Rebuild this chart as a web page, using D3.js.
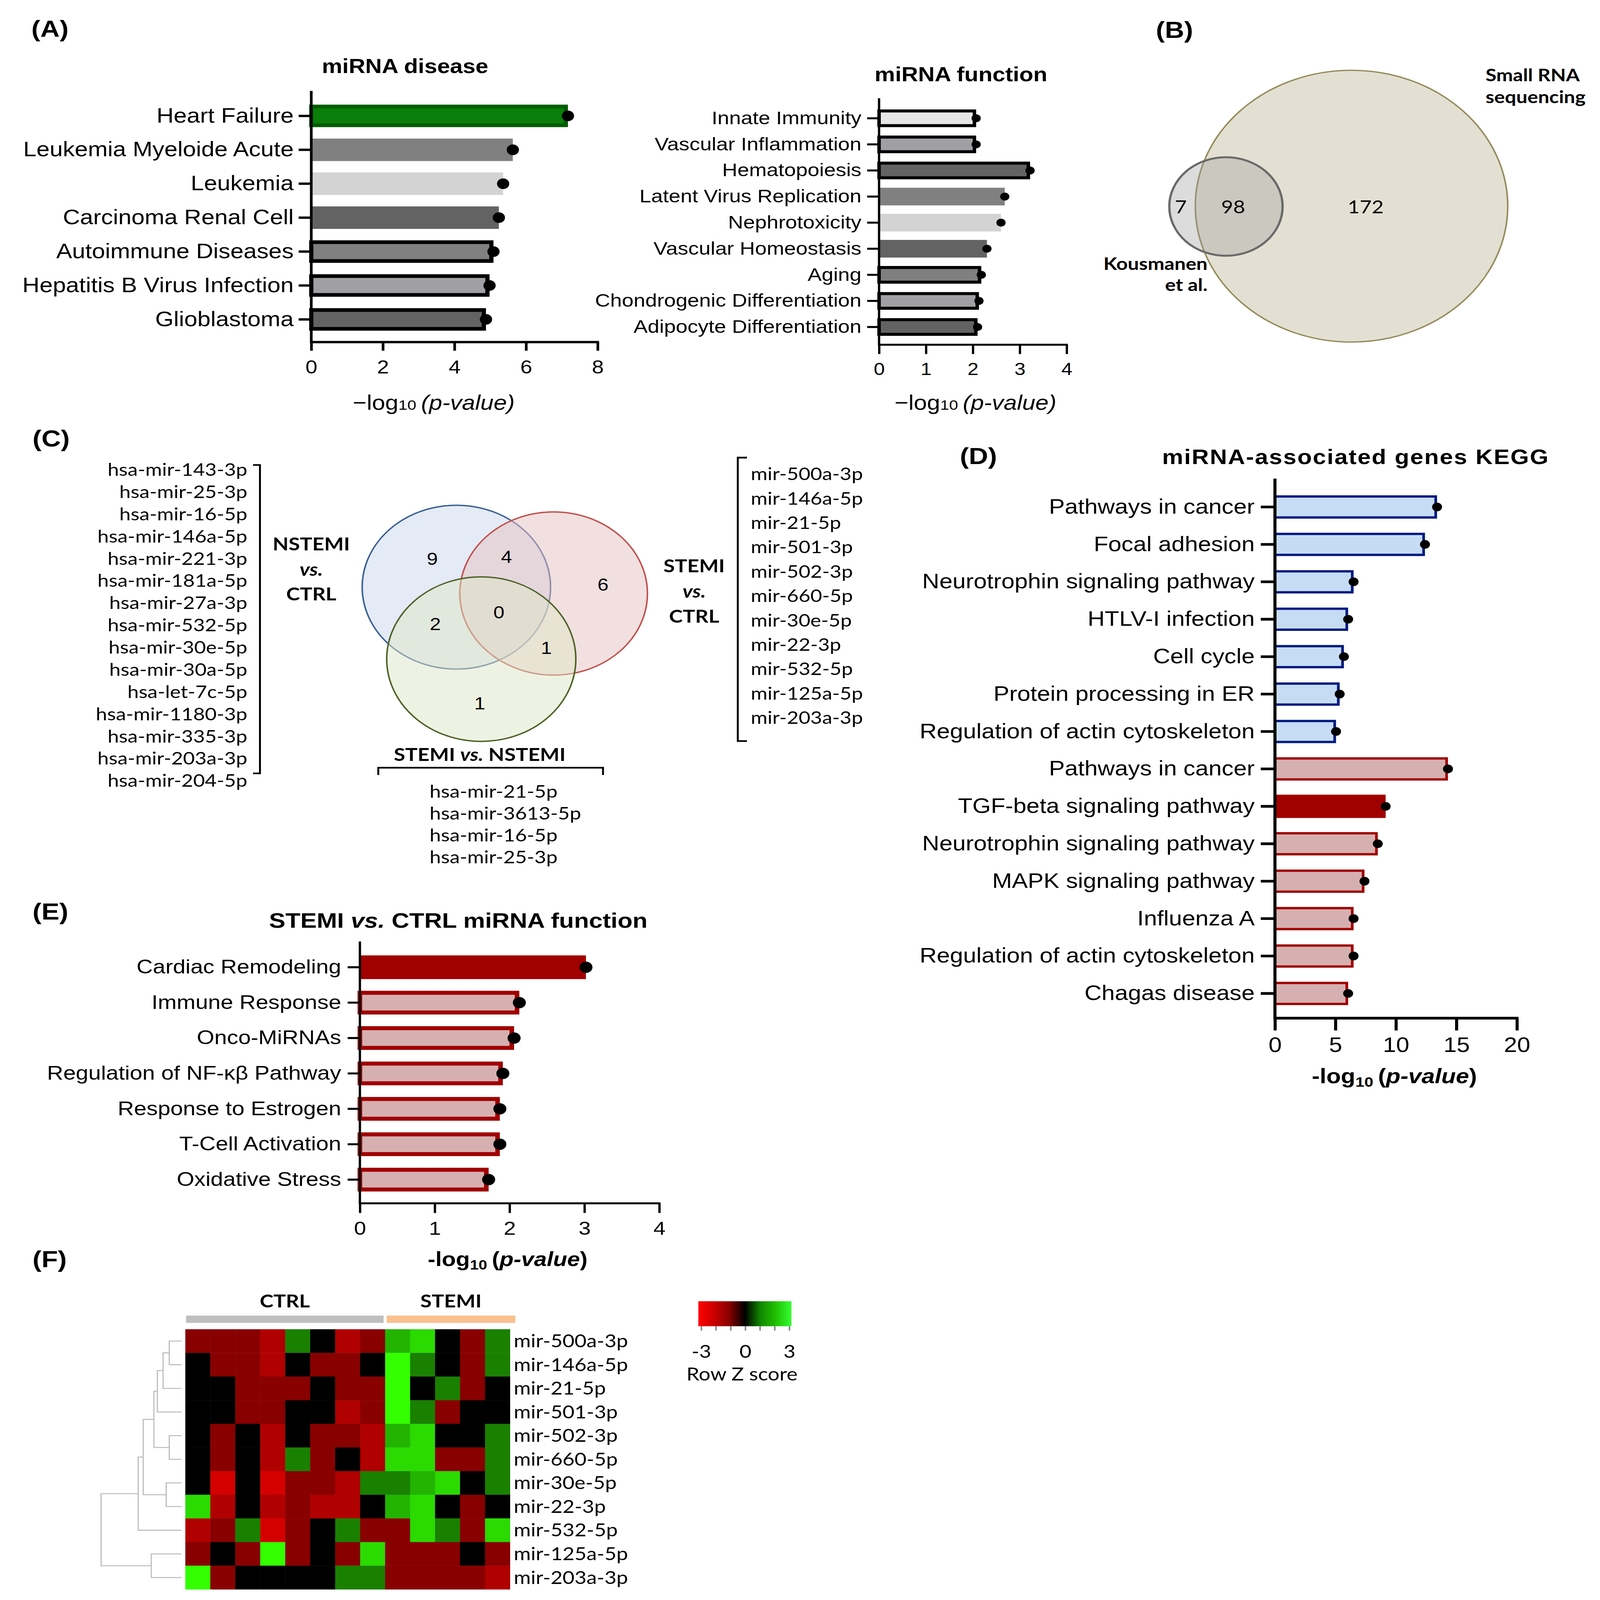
<!DOCTYPE html>
<html>
<head>
<meta charset="utf-8">
<script src="https://cdn.jsdelivr.net/npm/d3@7"></script>
<style>
  html, body { margin: 0; padding: 0; background: #fff; overflow: hidden; }
  svg { display: block; width: 100vw; height: 100vh; }
  text { font-family: "Liberation Sans", Arial, sans-serif; fill: #000; }
  text.cal { font-family: Lato, "Liberation Sans", sans-serif; }
</style>
</head>
<body>
<svg id="fig"></svg>
<script>
// ---- data ----
const diseaseLabels = ["Heart Failure", "Leukemia Myeloide Acute", "Leukemia", "Carcinoma Renal Cell",
  "Autoimmune Diseases", "Hepatitis B Virus Infection", "Glioblastoma"];
const diseaseValues = [7.17, 5.63, 5.36, 5.24, 5.09, 4.98, 4.88];

const functionLabels = ["Innate Immunity", "Vascular Inflammation", "Hematopoiesis", "Latent Virus Replication",
  "Nephrotoxicity", "Vascular Homeostasis", "Aging", "Chondrogenic Differentiation", "Adipocyte Differentiation"];
const functionValues = [2.07, 2.07, 3.22, 2.68, 2.6, 2.3, 2.18, 2.13, 2.1];

const keggLabels = ["Pathways in cancer", "Focal adhesion", "Neurotrophin signaling pathway", "HTLV-I infection",
  "Cell cycle", "Protein processing in ER", "Regulation of actin cytoskeleton",
  "Pathways in cancer", "TGF-beta signaling pathway", "Neurotrophin signaling pathway", "MAPK signaling pathway",
  "Influenza A", "Regulation of actin cytoskeleton", "Chagas disease"];
const keggValues = [13.4, 12.4, 6.5, 6.05, 5.7, 5.35, 5.05, 14.3, 9.15, 8.5, 7.4, 6.5, 6.5, 6.05];

const stemiFnLabels = ["Cardiac Remodeling", "Immune Response", "Onco-MiRNAs", "Regulation of NF-κβ Pathway",
  "Response to Estrogen", "T-Cell Activation", "Oxidative Stress"];
const stemiFnValues = [3.02, 2.13, 2.06, 1.91, 1.87, 1.87, 1.72];

const vennBNames = ["Kousmanen et al.", "Small RNA sequencing"];
const vennBCounts = [7, 98, 172];   // only Kousmanen, both, only sequencing

// NSTEMI only, NSTEMI&STEMI, STEMI only, NSTEMI&SvsN, all, STEMI&SvsN, SvsN only
const vennCCounts = [9, 4, 6, 2, 0, 1, 1];
const nstemiList = ["hsa-mir-143-3p", "hsa-mir-25-3p", "hsa-mir-16-5p", "hsa-mir-146a-5p", "hsa-mir-221-3p",
  "hsa-mir-181a-5p", "hsa-mir-27a-3p", "hsa-mir-532-5p", "hsa-mir-30e-5p", "hsa-mir-30a-5p", "hsa-let-7c-5p",
  "hsa-mir-1180-3p", "hsa-mir-335-3p", "hsa-mir-203a-3p", "hsa-mir-204-5p"];
const stemiList = ["mir-500a-3p", "mir-146a-5p", "mir-21-5p", "mir-501-3p", "mir-502-3p", "mir-660-5p",
  "mir-30e-5p", "mir-22-3p", "mir-532-5p", "mir-125a-5p", "mir-203a-3p"];
const stemiVsNstemiList = ["hsa-mir-21-5p", "hsa-mir-3613-5p", "hsa-mir-16-5p", "hsa-mir-25-3p"];

const heatRows = stemiList;
const heatGroups = ["CTRL", "CTRL", "CTRL", "CTRL", "CTRL", "CTRL", "CTRL", "CTRL",
  "STEMI", "STEMI", "STEMI", "STEMI", "STEMI"];
const heatZ = [
  [-1, -1, -1, -2, 1, 0, -2, -1, 2, 2.5, 0, -1, 1],
  [0, -1, -1, -2, 0, -1, -1, 0, 3, 1, 0, -1, 1],
  [0, 0, -1, -1, -1, 0, -1, -1, 3, 0, 1, -1, 0],
  [0, 0, -1, -1, 0, 0, -2, -1, 3, 1, -1, 0, 0],
  [0, -1, 0, -2, 0, -1, -1, -2, 2, 2.5, 0, 0, 1],
  [0, -1, 0, -2, 1, -1, 0, -2, 2.5, 2.5, -1, -1, 1],
  [0, -3, 0, -3, -1, -1, -2, 1, 1, 2, 2.5, 0, 1],
  [2.5, -2, 0, -2, -1, -2, -2, 0, 2, 2.5, 0, -1, 0],
  [-2, -1, 1, -3, -1, 0, 1, -1, -1, 2.5, 1, -1, 2.5],
  [-1, 0, -1, 3, -1, 0, -1, 2.5, -1, -1, -1, 0, -1],
  [3, -1, 0, 0, 0, 0, 1, 1, -1, -1, -1, -1, -2]
];
// row clustering, hclust style: negative = earlier merge (1-based)
const rowMerges = [
  [0, 1, 0.152], [-1, 2, 0.229], [-2, 3, 0.30], [4, 5, 0.152], [-3, -4, 0.343],
  [6, 7, 0.19], [-5, -6, 0.476], [-7, 8, 0.538], [9, 10, 0.376], [-8, -9, 1.0]
];
const zTicks = [-3, -2, -1, 0, 1, 2, 3];

// ---- styles ----
const diseaseFill = ["#0a7d0a", "#808080", "#d3d3d3", "#636363", "#808080", "#a0a0a4", "#636363"];
const diseaseStroke = ["#005c00", null, null, null, "#000", "#000", "#000"];
const functionFill = ["#e6e6e6", "#a0a0a4", "#636363", "#808080", "#d3d3d3", "#636363", "#808080", "#a0a0a4", "#636363"];
const functionStroke = ["#000", "#000", "#000", null, null, null, "#000", "#000", "#000"];
const keggFill = ["#c6dcf5", "#c6dcf5", "#c6dcf5", "#c6dcf5", "#c6dcf5", "#c6dcf5", "#c6dcf5",
  "#d6b0b0", "#a00000", "#d6b0b0", "#d6b0b0", "#d6b0b0", "#d6b0b0", "#d6b0b0"];
const keggStroke = ["#001a80", "#001a80", "#001a80", "#001a80", "#001a80", "#001a80", "#001a80",
  "#a00000", "#a00000", "#a00000", "#a00000", "#a00000", "#a00000", "#a00000"];
const stemiFill = ["#a00000", "#d6b0b0", "#d6b0b0", "#d6b0b0", "#d6b0b0", "#d6b0b0", "#d6b0b0"];
const stemiStroke = [null, "#a00000", "#a00000", "#a00000", "#a00000", "#a00000", "#a00000"];

const W = 4179, H = 4804;
const svg = d3.select("#fig").attr("viewBox", `0 0 ${W} ${H}`).attr("preserveAspectRatio", "none");
svg.append("rect").attr("width", W).attr("height", H).attr("fill", "#fff");

function barChart(o) {
  const g = svg.append("g");
  const x = d3.scaleLinear().domain([0, o.max]).range([o.x0, o.x1]);
  const y = d3.scaleBand().domain(d3.range(o.labels.length)).range([o.y0, o.y1])
    .paddingInner(o.pad).paddingOuter(o.pad / 2);
  const rows = o.labels.map((l, i) => ({ i, l, v: o.values[i], fill: o.fills[i], stroke: o.strokes[i] }));

  g.selectAll("rect.bar").data(rows).join("rect")
    .attr("class", "bar")
    .attr("x", x(0))
    .attr("y", d => y(d.i) + (d.stroke ? o.sw / 2 : 0))
    .attr("width", d => x(d.v) - x(0) - (d.stroke ? o.sw / 2 : 0))
    .attr("height", d => y.bandwidth() - (d.stroke ? o.sw : 0))
    .attr("fill", d => d.fill)
    .attr("stroke", d => d.stroke || "none")
    .attr("stroke-width", o.sw);

  g.selectAll("circle").data(rows).join("circle")
    .attr("cx", d => x(d.v))
    .attr("cy", d => y(d.i) + y.bandwidth() / 2)
    .attr("r", o.r)
    .attr("fill", "#000");

  // category axis
  const ya = g.append("g").attr("transform", `translate(${x(0)},0)`)
    .call(d3.axisLeft(y).tickSize(o.ytick).tickSizeOuter(0).tickPadding(o.ypad).tickFormat(i => o.labels[i]));
  ya.select(".domain").remove();
  ya.attr("font-size", o.labelSize).attr("font-family", null);
  ya.selectAll("line").attr("stroke", "#000").attr("stroke-width", o.aw);

  // value axis
  const xa = g.append("g").attr("transform", `translate(0,${o.axisY})`)
    .call(d3.axisBottom(x).tickValues(o.ticks).tickSize(o.xtick).tickSizeOuter(0).tickFormat(d3.format("d")));
  xa.select(".domain").remove();
  xa.attr("font-size", o.tickFont).attr("font-family", null);
  xa.selectAll("line").attr("stroke", "#000").attr("stroke-width", o.aw);
  xa.selectAll("text").attr("y", o.tickLabelY).attr("dy", 0);

  g.append("path")
    .attr("d", `M${x(0)},${o.axisTop}V${o.axisY + o.aw / 2}M${x(0) - o.aw / 2},${o.axisY}H${o.x1 + o.aw / 2}`)
    .attr("fill", "none").attr("stroke", "#000").attr("stroke-width", o.aw);

  // title
  const t = g.append("text").attr("x", o.titleX).attr("y", o.titleY)
    .attr("text-anchor", "middle").attr("font-weight", "bold").attr("font-size", o.titleSize)
    .attr("letter-spacing", o.titleSpacing || 0);
  o.title.forEach(p => t.append("tspan").attr("font-style", p[1] ? "italic" : null).text(p[0]));

  // axis label
  const xl = g.append("text").attr("x", o.xlabX).attr("y", o.xlabY)
    .attr("text-anchor", "middle").attr("font-size", o.xlabSize)
    .attr("font-weight", o.xlabBold ? "bold" : null);
  xl.append("tspan").text(o.xlabBold ? "-log" : "\u2212log");
  xl.append("tspan").attr("font-size", "68%").attr("dy", o.xlabBold ? "0.25em" : 0).text("10");
  xl.append("tspan").attr("dy", o.xlabBold ? "-0.17em" : 0).text("\u2009(");
  xl.append("tspan").attr("font-style", "italic").text("p-value");
  xl.append("tspan").text(")");
  if (!o.xlabBold) xl.selectAll("tspan").filter((d, i) => i >= 2).attr("font-style", "italic");
  return g;
}

// ---- (A) miRNA disease ----
barChart({
  labels: diseaseLabels, values: diseaseValues, fills: diseaseFill, strokes: diseaseStroke,
  max: 8, ticks: [0, 2, 4, 6, 8], x0: 813, x1: 1561, y0: 297, y1: 1010, pad: 0.337,
  axisTop: 273, axisY: 1027, ytick: 33, ypad: 13, xtick: 26, tickLabelY: 94,
  sw: 11, r: 16, aw: 7, labelSize: 62, tickFont: 56,
  title: [["miRNA disease"]], titleX: 1058, titleY: 219, titleSize: 60,
  xlabX: 1133, xlabY: 1230, xlabSize: 62
});

// ---- (A) miRNA function ----
barChart({
  labels: functionLabels, values: functionValues, fills: functionFill, strokes: functionStroke,
  max: 4, ticks: [0, 1, 2, 3, 4], x0: 2296, x1: 2786, y0: 316, y1: 1021, pad: 0.323,
  axisTop: 295, axisY: 1035, ytick: 31, ypad: 15, xtick: 28, tickLabelY: 91,
  sw: 9, r: 12, aw: 6, labelSize: 55, tickFont: 52,
  title: [["miRNA function"]], titleX: 2510, titleY: 244, titleSize: 60,
  xlabX: 2548, xlabY: 1230, xlabSize: 62
});

// ---- (D) KEGG ----
barChart({
  labels: keggLabels, values: keggValues, fills: keggFill, strokes: keggStroke,
  max: 20, ticks: [0, 5, 10, 15, 20], x0: 3330, x1: 3962, y0: 1466, y1: 3039, pad: 0.377,
  axisTop: 1437, axisY: 3057, ytick: 37, ypad: 16, xtick: 37, tickLabelY: 101,
  sw: 7, r: 13, aw: 8, labelSize: 62, tickFont: 62,
  title: [["miRNA-associated genes KEGG"]], titleX: 3541, titleY: 1393, titleSize: 62, titleSpacing: 2.5,
  xlabX: 3642, xlabY: 3252, xlabSize: 62, xlabBold: true
});

// ---- (E) STEMI vs CTRL ----
barChart({
  labels: stemiFnLabels, values: stemiFnValues, fills: stemiFill, strokes: stemiStroke,
  max: 4, ticks: [0, 1, 2, 3, 4], x0: 940, x1: 1722, y0: 2851, y1: 3595, pad: 0.33,
  axisTop: 2827, axisY: 3613, ytick: 32, ypad: 17, xtick: 29, tickLabelY: 94,
  sw: 12, r: 17, aw: 6, labelSize: 59, tickFont: 57,
  title: [["STEMI "], ["vs.", true], [" CTRL miRNA function"]], titleX: 1197, titleY: 2785, titleSize: 64,
  xlabX: 1326, xlabY: 3801, xlabSize: 60, xlabBold: true
});

// ---- panel letters ----
[["(A)", 82, 110], ["(B)", 3019, 114], ["(C)", 85, 1341], ["(D)", 2507, 1393], ["(E)", 85, 2761], ["(F)", 85, 3805]]
  .forEach(p => svg.append("text").attr("x", p[1]).attr("y", p[2])
    .attr("font-size", 70).attr("font-weight", "bold").text(p[0]));

// ---- (B) Venn ----
const gB = svg.append("g");
gB.append("circle").attr("cx", 3530).attr("cy", 619).attr("r", 408)
  .attr("fill", "#e3e0d3").attr("stroke", "#958a5a").attr("stroke-width", 4);
gB.append("circle").attr("cx", 3202).attr("cy", 620).attr("r", 148)
  .attr("fill", "#9a9a9a").attr("fill-opacity", 0.35).attr("stroke", "#6a6a6a").attr("stroke-width", 6);
gB.selectAll("text.n").data(vennBCounts).join("text")
  .attr("class", "cal").attr("x", (d, i) => [3084, 3221, 3567][i]).attr("y", 621).attr("dy", "0.35em")
  .attr("text-anchor", "middle").attr("font-size", 54).text(d => d);
const kous = gB.append("text").attr("class", "cal").attr("text-anchor", "end")
  .attr("font-weight", "bold").attr("font-size", 52);
kous.append("tspan").attr("x", 3154).attr("y", 810).text("Kousmanen");
kous.append("tspan").attr("x", 3154).attr("y", 874).text("et al.");
const srna = gB.append("text").attr("class", "cal").attr("font-weight", "bold").attr("font-size", 52);
srna.append("tspan").attr("x", 3880).attr("y", 244).text("Small RNA");
srna.append("tspan").attr("x", 3880).attr("y", 310).text("sequencing");

// ---- (C) Venn ----
const gC = svg.append("g");
const vennCircles = [
  { cx: 1192, cy: 1763, r: 246, fill: "#c9d7ed", stroke: "#3a5f94" },
  { cx: 1446, cy: 1782, r: 245, fill: "#e5c1c1", stroke: "#c0504d" },
  { cx: 1257, cy: 1979, r: 247, fill: "#dde5c5", stroke: "#4f6228" }
];
gC.selectAll("circle").data(vennCircles).join("circle")
  .attr("cx", d => d.cx).attr("cy", d => d.cy).attr("r", d => d.r)
  .attr("fill", d => d.fill).attr("fill-opacity", 0.5)
  .attr("stroke", d => d.stroke).attr("stroke-width", 4);
const regionPos = [[1129, 1678], [1323, 1672], [1575, 1755], [1137, 1874], [1303, 1838], [1427, 1945], [1253, 2112]];
gC.selectAll("text.n").data(vennCCounts).join("text")
  .attr("x", (d, i) => regionPos[i][0]).attr("y", (d, i) => regionPos[i][1]).attr("dy", "0.35em")
  .attr("text-anchor", "middle").attr("font-size", 52).text(d => d);

function setLabel(x, ys, parts) {
  const t = gC.append("text").attr("class", "cal").attr("text-anchor", "middle")
    .attr("font-weight", "bold").attr("font-size", 54);
  parts.forEach((p, i) => {
    const s = t.append("tspan").attr("x", x).attr("y", ys[i]).text(p[0]);
    if (p[1]) s.attr("font-style", "italic");
  });
}
setLabel(813, [1652, 1729, 1803], [["NSTEMI"], ["vs.", true], ["CTRL"]]);
setLabel(1813, [1718, 1795, 1869], [["STEMI"], ["vs.", true], ["CTRL"]]);
const svn = gC.append("text").attr("class", "cal").attr("x", 1253).attr("y", 2285)
  .attr("text-anchor", "middle").attr("font-weight", "bold").attr("font-size", 54);
svn.append("tspan").text("STEMI ");
svn.append("tspan").attr("font-style", "italic").text("vs.");
svn.append("tspan").text(" NSTEMI");

const listLeft = d3.scalePoint().domain(nstemiList).range([1410, 2344]);
gC.selectAll("text.l").data(nstemiList).join("text").attr("class", "cal")
  .attr("x", 646).attr("y", d => listLeft(d)).attr("dy", "0.35em")
  .attr("text-anchor", "end").attr("font-size", 53).text(d => d);
const listRight = d3.scalePoint().domain(stemiList).range([1423, 2155]);
gC.selectAll("text.r").data(stemiList).join("text").attr("class", "cal")
  .attr("x", 1961).attr("y", d => listRight(d)).attr("dy", "0.35em")
  .attr("font-size", 53).text(d => d);
const listBottom = d3.scalePoint().domain(stemiVsNstemiList).range([2376, 2574]);
gC.selectAll("text.b").data(stemiVsNstemiList).join("text").attr("class", "cal")
  .attr("x", 1122).attr("y", d => listBottom(d)).attr("dy", "0.35em")
  .attr("font-size", 53).text(d => d);

gC.append("path").attr("d", "M661,1396H679V2322H661M1951,1374H1927V2225H1951M988,2327V2305H1575V2327")
  .attr("fill", "none").attr("stroke", "#000").attr("stroke-width", 5);

// ---- (F) heatmap ----
const gF = svg.append("g");
const hx = d3.scaleBand().domain(d3.range(heatGroups.length)).range([484, 1332]);
const hy = d3.scaleBand().domain(heatRows).range([3991, 4772]);
const zColor = d3.scaleLinear().domain(zTicks)
  .range(["#d40000", "#b00000", "#880000", "#000000", "#1a8000", "#22b400", "#33ff00"]);

heatZ.forEach((row, r) => {
  gF.selectAll(null).data(row).join("rect")
    .attr("x", (d, c) => hx(c)).attr("y", hy(heatRows[r]))
    .attr("width", hx.bandwidth() + 0.5).attr("height", hy.bandwidth() + 0.5)
    .attr("fill", d => zColor(d));
});
gF.selectAll("text.row").data(heatRows).join("text").attr("class", "cal")
  .attr("x", 1342).attr("y", d => hy(d) + hy.bandwidth() / 2).attr("dy", "0.35em")
  .attr("font-size", 54).text(d => d);

// group annotation bars
const groups = ["CTRL", "STEMI"];
const groupColor = { CTRL: "#bfbfbf", STEMI: "#fac090" };
groups.forEach(gname => {
  const cols = heatGroups.map((g, i) => g === gname ? i : -1).filter(i => i >= 0);
  const xa = hx(cols[0]) + (gname === "STEMI" ? 4 : 2);
  const xb = hx(cols[cols.length - 1]) + hx.bandwidth() + (gname === "STEMI" ? 14 : -4);
  gF.append("rect").attr("x", xa).attr("y", 3950).attr("width", xb - xa).attr("height", 22)
    .attr("fill", groupColor[gname]);
  gF.append("text").attr("class", "cal").attr("x", (xa + xb) / 2).attr("y", 3926)
    .attr("text-anchor", "middle").attr("font-weight", "bold").attr("font-size", 54).text(gname);
});

// dendrogram
const dx = d3.scaleLinear().domain([0, 1]).range([474, 264]);
const nodes = [];
function childPos(k) {
  if (k >= 0) return { x: dx(0), y: hy(heatRows[k]) + hy.bandwidth() / 2 };
  return nodes[-k - 1];
}
const dend = d3.path();
rowMerges.forEach(m => {
  const a = childPos(m[0]), b = childPos(m[1]);
  const xh = dx(m[2]);
  dend.moveTo(a.x, a.y); dend.lineTo(xh, a.y); dend.lineTo(xh, b.y); dend.lineTo(b.x, b.y);
  nodes.push({ x: xh, y: (a.y + b.y) / 2 });
});
gF.append("path").attr("d", dend.toString()).attr("fill", "none")
  .attr("stroke", "#bdbdbd").attr("stroke-width", 3);

// colour key
const lx = d3.scaleLinear().domain([-3, 3]).range([1832, 2062]);
const grad = svg.append("defs").append("linearGradient").attr("id", "zkey");
[["#ff0000", -3], ["#cc0000", -2], ["#880000", -1], ["#000000", 0], ["#118800", 1], ["#22c000", 2], ["#33ff33", 3]]
  .forEach(s => grad.append("stop").attr("offset", (s[1] + 3) / 6).attr("stop-color", s[0]));
gF.append("rect").attr("x", 1824).attr("y", 3907).attr("width", 243).attr("height", 75).attr("fill", "url(#zkey)");
gF.selectAll("line.k").data(zTicks).join("line")
  .attr("x1", d => lx(d)).attr("x2", d => lx(d)).attr("y1", 3982).attr("y2", 3995)
  .attr("stroke", "#888").attr("stroke-width", 4);
gF.selectAll("text.k").data([-3, 0, 3]).join("text").attr("class", "cal")
  .attr("x", d => lx(d)).attr("y", 4058).attr("dy", "0.35em").attr("text-anchor", "middle")
  .attr("font-size", 54).text(d => d);
gF.append("text").attr("class", "cal").attr("x", 1938).attr("y", 4126).attr("dy", "0.35em")
  .attr("text-anchor", "middle").attr("font-size", 54).text("Row Z score");
</script>
</body>
</html>
